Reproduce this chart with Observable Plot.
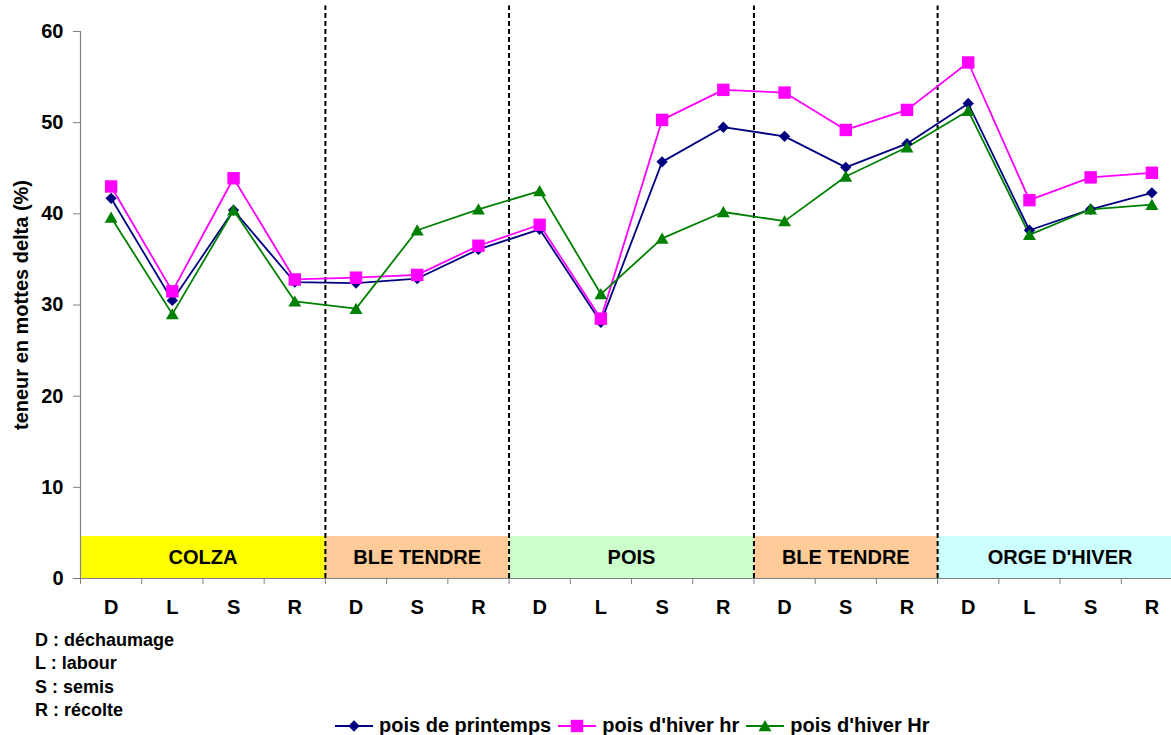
<!DOCTYPE html>
<html><head><meta charset="utf-8">
<script src="https://cdn.jsdelivr.net/npm/d3@7"></script>
<script src="https://cdn.jsdelivr.net/npm/@observablehq/plot@0.6"></script>
<style>
html,body{margin:0;padding:0;background:#fff;overflow:hidden;}
#wrap{position:relative;width:1171px;height:735px;overflow:hidden;font-family:"Liberation Sans",Arial,sans-serif;font-weight:bold;color:#000;}
#chart{position:absolute;left:0;top:0;width:1182px;}
#notes{position:absolute;left:35px;top:629px;font-size:18px;line-height:23.4px;}
#legend{position:absolute;left:335px;top:714px;font-size:20px;display:flex;align-items:center;white-space:nowrap;}
#legend .item{display:flex;align-items:center;margin-right:7px;}
#legend svg{margin-right:6px;}
</style></head>
<body><div id="wrap"><div id="chart"></div><div id="notes"></div><div id="legend"></div></div>
<script>
const stages = ["D","L","S","R","D","S","R","D","L","S","R","D","S","R","D","L","S","R"];
const poisPrintemps = [41.7,30.5,40.4,32.5,32.4,32.9,36.1,38.3,28.1,45.7,49.5,48.5,45.1,47.7,52.1,38.2,40.5,42.3];
const poisHiverHrLow = [43.0,31.5,43.9,32.8,33.0,33.3,36.5,38.8,28.5,50.3,53.6,53.3,49.2,51.4,56.6,41.5,44.0,44.5];
const poisHiverHrUp = [39.6,29.0,40.4,30.4,29.6,38.2,40.5,42.5,31.2,37.3,40.2,39.2,44.1,47.3,51.3,37.7,40.5,41.0];
const crops = ["COLZA","BLE TENDRE","POIS","BLE TENDRE","ORGE D'HIVER"];
const cropStart = [0,4,7,11,14];
const cropEnd = [4,7,11,14,18];
const cropColors = ["#FFFF00","#FFCC99","#CCFFCC","#FFCC99","#CCFFFF"];
const bandTop = 4.6;
const seriesNames = ["pois de printemps","pois d'hiver hr","pois d'hiver Hr"];
const seriesValues = [poisPrintemps, poisHiverHrLow, poisHiverHrUp];
const seriesColors = ["#000080","#FF00FF","#008000"];
const seriesSymbols = ["diamond2","square","triangle"];
const seriesR = [5.1, 7.0, 4.8];
const yTicks = [0,10,20,30,40,50,60];
const yTitle = "teneur en mottes delta (%)";
const notes = ["D : déchaumage","L : labour","S : semis","R : récolte"];

const rows = [];
seriesValues.forEach((vals, s) => vals.forEach((v, i) => rows.push({s, i: i + 0.5, v})));
const cropIdx = d3.range(crops.length);
const gray = "#808080";

const marks = [
  Plot.rect(cropIdx, {x1: k => cropStart[k], x2: k => cropEnd[k], y1: 0, y2: bandTop, fill: k => cropColors[k]}),
  Plot.text(cropIdx, {x: k => (cropStart[k] + cropEnd[k]) / 2, y: bandTop / 2, text: k => crops[k], fontSize: 20, fontWeight: "bold", fill: "#000"}),
  Plot.ruleY([0], {stroke: gray, strokeWidth: 1.2}),
  Plot.ruleX([0], {y1: 0, y2: 60, stroke: gray, strokeWidth: 1.2}),
  Plot.axisY({ticks: yTicks, tickSize: 7, tickPadding: 10, stroke: gray, label: null, fontSize: 20}),
  Plot.axisX({ticks: d3.range(19), tickSize: 6, tickFormat: () => "", stroke: gray, label: null}),
  Plot.axisX({ticks: d3.range(18).map(i => i + 0.5), tickSize: 0, tickPadding: 21, tickFormat: d => stages[Math.floor(d)], label: null, fontSize: 20}),
  Plot.ruleX([4, 7, 11, 14], {y1: 0, y2: 62.8, stroke: "#000", strokeWidth: 2, strokeDasharray: "5,3"}),
  Plot.text([yTitle], {frameAnchor: "left", textAnchor: "middle", y: 30, dx: -59, rotate: -90, text: d => d, fontSize: 20, fontWeight: "bold", fill: "#000"})
];
seriesValues.forEach((vals, s) => {
  const data = rows.filter(r => r.s === s);
  marks.push(Plot.line(data, {x: "i", y: "v", stroke: seriesColors[s], strokeWidth: 1.8}));
});
seriesValues.forEach((vals, s) => {
  const data = rows.filter(r => r.s === s);
  marks.push(Plot.dot(data, {x: "i", y: "v", symbol: () => seriesSymbols[s], r: seriesR[s], fill: seriesColors[s], stroke: "none", dy: s === 2 ? 1.5 : 0}));
});

const chart = Plot.plot({
  width: 1182, height: 620,
  marginLeft: 80, marginRight: 0, marginTop: 31, marginBottom: 42,
  x: {domain: [0, 18], axis: null},
  y: {domain: [0, 60], axis: null},
  color: {type: "identity"},
  symbol: {type: "identity"},
  style: {fontFamily: "'Liberation Sans', Arial, sans-serif", fontWeight: "bold", fontSize: "20px", color: "#000", background: "#fff", overflow: "visible", maxWidth: "none"},
  marks
});
document.getElementById("chart").appendChild(chart);

document.getElementById("notes").innerHTML = notes.map(n => `<div>${n}</div>`).join("");

const lg = d3.select("#legend");
seriesNames.forEach((name, s) => {
  const it = lg.append("div").attr("class", "item");
  const sv = it.append("svg").attr("width", 38).attr("height", 20);
  sv.append("line").attr("x1", 0).attr("x2", 38).attr("y1", 10).attr("y2", 10).attr("stroke", seriesColors[s]).attr("stroke-width", 1.8);
  const sym = [d3.symbolDiamond2, d3.symbolSquare, d3.symbolTriangle][s];
  sv.append("path").attr("transform", `translate(19,${s === 2 ? 11.5 : 10})`).attr("d", d3.symbol(sym, Math.PI * seriesR[s] * seriesR[s])()).attr("fill", seriesColors[s]);
  it.append("span").text(name);
});
</script>
</body></html>
